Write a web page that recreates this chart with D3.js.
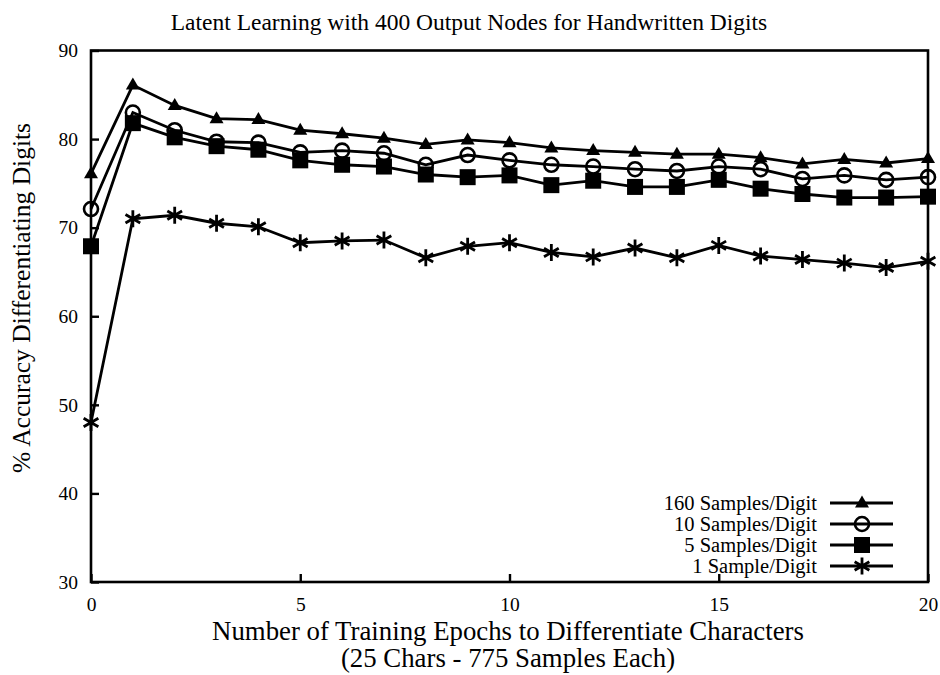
<!DOCTYPE html>
<html lang="en">
<head>
    <meta charset="UTF-8">
    <title>Latent Learning with 400 Output Nodes for Handwritten Digits</title>
    <style>
        body {
            margin: 0;
            background: #fff;
        }
        svg text {
            font-family: "Liberation Serif", "Times New Roman", serif;
            fill: #000;
        }
        .frame {
            fill: none;
            stroke: #000;
            stroke-width: 2.6;
        }
        .series {
            fill: none;
            stroke: #000;
            stroke-width: 2.8;
            stroke-linejoin: miter;
        }
        .axis line {
            stroke: #000;
            stroke-width: 2.4;
        }
        .axis text {
            font-size: 19.5px;
        }
    </style>
</head>
<body>
    <svg id="chart" width="940" height="675"></svg>

    <script src="https://d3js.org/d3.v7.min.js"></script>
    <script>
        // data
        const epochs = [0, 1, 2, 3, 4, 5, 6, 7, 8, 9, 10, 11, 12, 13, 14, 15, 16, 17, 18, 19, 20];
        const samples160 = [76.1, 86.1, 83.8, 82.3, 82.2, 81.0, 80.6, 80.1, 79.4, 79.9, 79.6,
                            79.0, 78.7, 78.5, 78.3, 78.3, 77.9, 77.2, 77.7, 77.3, 77.8];
        const samples10 = [72.1, 83.0, 81.0, 79.7, 79.6, 78.5, 78.7, 78.4, 77.1, 78.2, 77.6,
                           77.1, 76.9, 76.6, 76.4, 76.9, 76.6, 75.5, 75.9, 75.4, 75.7];
        const samples5 = [67.9, 81.8, 80.2, 79.2, 78.8, 77.6, 77.1, 76.9, 76.0, 75.7, 75.9,
                          74.8, 75.3, 74.6, 74.6, 75.4, 74.4, 73.8, 73.4, 73.4, 73.5];
        const samples1 = [48.0, 71.0, 71.4, 70.5, 70.1, 68.3, 68.5, 68.6, 66.6, 67.9, 68.3,
                          67.2, 66.7, 67.7, 66.6, 68.0, 66.8, 66.4, 66.0, 65.5, 66.2];

        const xTicks = [0, 5, 10, 15, 20];
        const yTicks = [30, 40, 50, 60, 70, 80, 90];

        const seriesNames = ['160 Samples/Digit', '10 Samples/Digit', '5 Samples/Digit', '1 Sample/Digit'];
        const seriesValues = [samples160, samples10, samples5, samples1];
        const seriesMarkers = ['triangle', 'circle', 'square', 'star'];

        const svg = d3.select('#chart');

        const plotLeft = 91, plotRight = 928, plotTop = 50.5, plotBottom = 582;

        const x = d3.scaleLinear().domain([0, 20]).range([plotLeft, plotRight]);
        const y = d3.scaleLinear().domain([30, 90]).range([plotBottom, plotTop]);

        // title
        svg.append('text')
            .attr('x', 469)
            .attr('y', 30)
            .attr('text-anchor', 'middle')
            .style('font-size', '23.5px')
            .text('Latent Learning with 400 Output Nodes for Handwritten Digits');

        // axes, ticks pointing inward
        svg.append('g')
            .attr('class', 'axis')
            .attr('transform', `translate(${plotLeft},0)`)
            .call(d3.axisLeft(y).tickValues(yTicks).tickSize(-8).tickPadding(13).tickFormat(d3.format('d')))
            .call(g => g.select('.domain').remove());

        svg.append('g')
            .attr('class', 'axis')
            .attr('transform', `translate(0,${plotBottom})`)
            .call(d3.axisBottom(x).tickValues(xTicks).tickSize(-8).tickPadding(15).tickFormat(d3.format('d')))
            .call(g => g.select('.domain').remove());

        // plot frame
        svg.append('rect')
            .attr('class', 'frame')
            .attr('x', plotLeft)
            .attr('y', plotTop)
            .attr('width', plotRight - plotLeft)
            .attr('height', plotBottom - plotTop);

        // axis titles
        const xTitle = svg.append('text')
            .attr('text-anchor', 'middle')
            .style('font-size', '26.8px');
        xTitle.append('tspan')
            .attr('x', 508).attr('y', 640)
            .text('Number of Training Epochs to Differentiate Characters');
        xTitle.append('tspan')
            .attr('x', 508).attr('y', 667)
            .text('(25 Chars - 775 Samples Each)');

        svg.append('text')
            .attr('transform', 'translate(30,298) rotate(-90)')
            .attr('text-anchor', 'middle')
            .style('font-size', '25.5px')
            .text('% Accuracy Differentiating Digits');

        // marker drawing
        function drawMarker(g, type, cx, cy) {
            if (type === 'triangle') {
                g.append('path')
                    .attr('d', `M${cx},${cy - 7.5}L${cx + 7},${cy + 4.5}L${cx - 7},${cy + 4.5}Z`)
                    .attr('fill', '#000');
            } else if (type === 'circle') {
                g.append('circle')
                    .attr('cx', cx).attr('cy', cy).attr('r', 7)
                    .attr('fill', 'none')
                    .attr('stroke', '#000')
                    .attr('stroke-width', 2.6);
            } else if (type === 'square') {
                g.append('rect')
                    .attr('x', cx - 8).attr('y', cy - 8)
                    .attr('width', 16).attr('height', 16)
                    .attr('fill', '#000');
            } else {
                const r = 8.5;
                const d = r * Math.cos(Math.PI / 6), h = r * Math.sin(Math.PI / 6);
                g.append('path')
                    .attr('d', `M${cx},${cy - r}L${cx},${cy + r}` +
                               `M${cx - d},${cy - h}L${cx + d},${cy + h}` +
                               `M${cx - d},${cy + h}L${cx + d},${cy - h}`)
                    .attr('stroke', '#000')
                    .attr('stroke-width', 2.8)
                    .attr('fill', 'none');
            }
        }

        const line = d3.line()
            .x((d, i) => x(epochs[i]))
            .y(d => y(d));

        seriesValues.forEach((vals, s) => {
            svg.append('path')
                .datum(vals)
                .attr('class', 'series')
                .attr('d', line);
            const mg = svg.append('g');
            vals.forEach((v, i) => drawMarker(mg, seriesMarkers[s], x(epochs[i]), y(v)));
        });

        // legend
        const legend = svg.append('g');
        seriesNames.forEach((name, s) => {
            const ly = 503 + s * 21;
            legend.append('text')
                .attr('x', 817)
                .attr('y', ly + 7)
                .attr('text-anchor', 'end')
                .style('font-size', '20.5px')
                .text(name);
            legend.append('line')
                .attr('x1', 830).attr('x2', 893)
                .attr('y1', ly).attr('y2', ly)
                .attr('stroke', '#000')
                .attr('stroke-width', 2.8);
            drawMarker(legend, seriesMarkers[s], 862, ly);
        });
    </script>
</body>
</html>
